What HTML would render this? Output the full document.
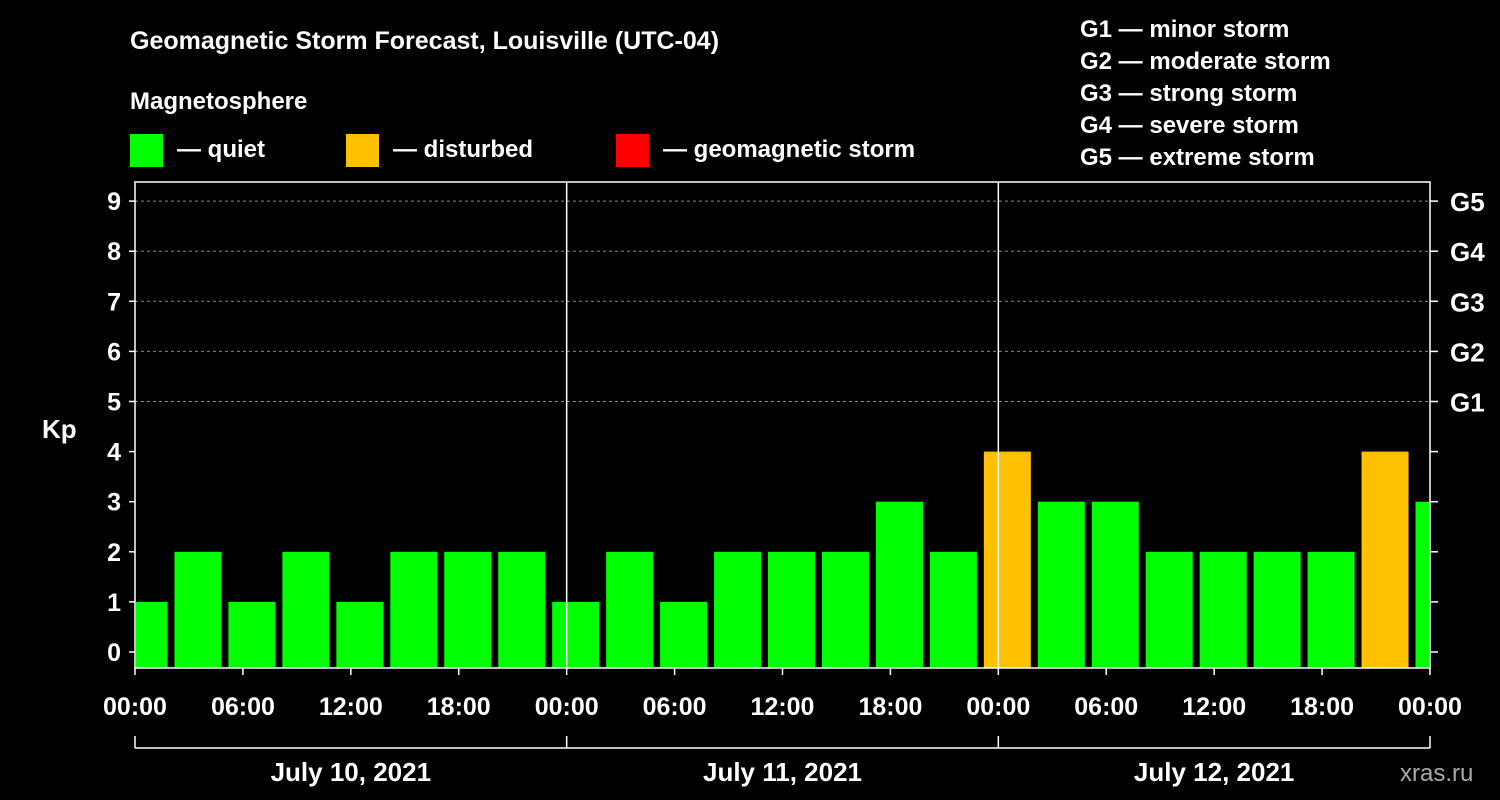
<!DOCTYPE html>
<html><head><meta charset="utf-8"><style>
body{margin:0;background:#000;width:1500px;height:800px;overflow:hidden}
svg{display:block}
text{font-family:"Liberation Sans",sans-serif;font-weight:bold;fill:#fff}
</style></head><body>
<svg id="c" width="1500" height="800">
<text x="130" y="49" font-size="25">Geomagnetic Storm Forecast, Louisville (UTC-04)</text>
<text x="130" y="109" font-size="24">Magnetosphere</text>
<g><rect x="130" y="134" width="33" height="33" fill="#00ff00"/><text x="177" y="157" font-size="24">— quiet</text></g>
<g><rect x="346" y="134" width="33" height="33" fill="#ffc000"/><text x="393" y="157" font-size="24">— disturbed</text></g>
<g><rect x="616" y="134" width="33" height="33" fill="#ff0000"/><text x="663" y="157" font-size="24">— geomagnetic storm</text></g>
<g font-size="24">
<text x="1080" y="37">G1 — minor storm</text><text x="1080" y="69">G2 — moderate storm</text><text x="1080" y="101">G3 — strong storm</text><text x="1080" y="133">G4 — severe storm</text><text x="1080" y="165">G5 — extreme storm</text></g>
<text x="42" y="438" font-size="26">Kp</text>
<text x="1400" y="781" font-size="24" fill="#aaa" style="fill:#aaa;font-weight:normal">xras.ru</text>
<g id="plot"></g>
</svg>
<script>
const kpValues=[1,2,1,2,1,2,2,2,1,2,1,2,2,2,3,2,4,3,3,2,2,2,2,4,3];
const yTicks=[0,1,2,3,4,5,6,7,8,9];
const gLabels=["G1","G2","G3","G4","G5"];
const xTickLabels=["00:00","06:00","12:00","18:00","00:00","06:00","12:00","18:00","00:00","06:00","12:00","18:00","00:00"];
const dayLabels=["July 10, 2021","July 11, 2021","July 12, 2021"];
const L=135,R=1430,T=182,B=668;
const x=h=>L+h*(R-L)/72;
const y=v=>652-v*50.1;
const g=document.getElementById('plot');
const NS='http://www.w3.org/2000/svg';
function mk(t,a){const e=document.createElementNS(NS,t);for(const k in a)e.setAttribute(k,a[k]);g.appendChild(e);return e;}
yTicks.forEach(v=>{
 if(v>=5){const l=mk('line',{x1:L,x2:R,y1:y(v),y2:y(v),stroke:'#888','stroke-dasharray':'3,3','stroke-width':1});
 
 }
 const t=mk('text',{x:L-14,y:y(v)+9,'font-size':25,'text-anchor':'end'});t.textContent=v;
 
 
 mk('line',{x1:L-6,x2:L,y1:y(v),y2:y(v),stroke:'#fff','stroke-width':1.5});
 mk('line',{x1:R,x2:R+8,y1:y(v),y2:y(v),stroke:'#fff','stroke-width':1.5});
 if(v>=5){const gt=mk('text',{x:R+20,y:y(v)+10,'font-size':26});gt.textContent=gLabels[v-5];
 
 }
});
kpValues.forEach((v,i)=>{
 let x0=x(-1+3*i)+3.5,x1=x0+47;x0=Math.max(x0,L+1);x1=Math.min(x1,R-1);
 const r=mk('rect',{x:x0,y:y(v),width:x1-x0,height:B-y(v),fill:v>=5?'#ff0000':v>=4?'#ffc000':'#00ff00'});
 
 
});
[24,48].forEach(h=>mk('line',{x1:x(h),x2:x(h),y1:T,y2:B,stroke:'#fff','stroke-width':1.5}));
const fr=mk('rect',{x:L,y:T,width:R-L,height:B-T,fill:'none',stroke:'#fff','stroke-width':1.5});


xTickLabels.forEach((s,i)=>{
 mk('line',{x1:x(i*6),x2:x(i*6),y1:B,y2:B+7,stroke:'#fff','stroke-width':1.5});
 const t=mk('text',{x:x(i*6),y:715,'font-size':25,'text-anchor':'middle'});t.textContent=s;
 
 
});
mk('line',{x1:L,x2:R,y1:748,y2:748,stroke:'#fff','stroke-width':1.5});
[0,24,48,72].forEach(h=>mk('line',{x1:x(h),x2:x(h),y1:736,y2:748,stroke:'#fff','stroke-width':1.5}));
dayLabels.forEach((s,i)=>{
 const t=mk('text',{x:x(12+24*i),y:781,'font-size':26,'text-anchor':'middle'});t.textContent=s;
 
 
});
</script>
</body></html>
